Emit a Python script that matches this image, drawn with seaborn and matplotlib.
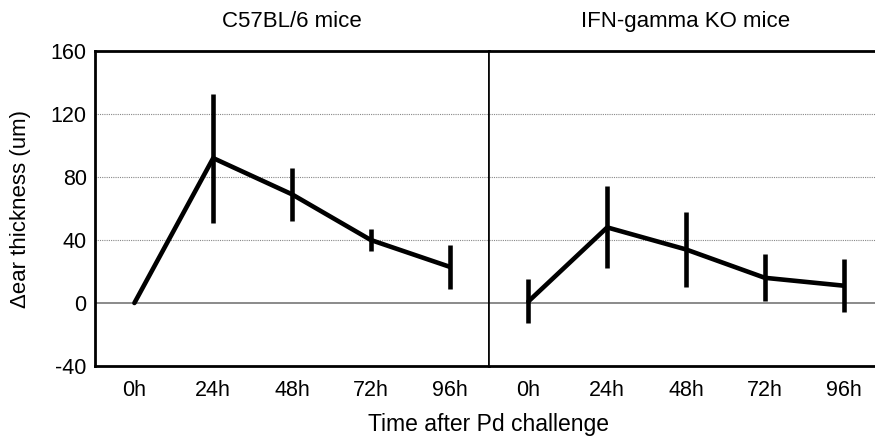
import numpy as np
import pandas as pd
import seaborn as sns
from matplotlib import pyplot as plt, ticker

times = ["0h", "24h", "48h", "72h", "96h"]

wt_mean = [0, 92, 69, 40, 23]
wt_sd = [0, 41, 17, 7, 14]

ko_mean = [1, 48, 34, 16, 11]
ko_sd = [14, 26, 24, 15, 17]

panels = [
    ("C57BL/6 mice", wt_mean, wt_sd),
    ("IFN-gamma KO mice", ko_mean, ko_sd),
]


def main():
    sns.set_style("white")
    plt.rcParams['font.family'] = ['Liberation Sans', 'DejaVu Sans']
    plt.rcParams['axes.unicode_minus'] = False
    plt.rcParams['text.color'] = 'black'
    plt.rcParams['axes.labelcolor'] = 'black'
    plt.rcParams['xtick.color'] = 'black'
    plt.rcParams['ytick.color'] = 'black'

    fig = plt.figure(figsize=(8.75, 4.36), dpi=100)
    ax1 = fig.add_axes([95 / 875, 70 / 436, 394 / 875, 315 / 436])
    ax2 = fig.add_axes([489 / 875, 70 / 436, 394 / 875, 315 / 436], sharey=ax1)

    for ax, (title, mean, sd) in zip([ax1, ax2], panels):
        df = pd.DataFrame({"time": times, "mean": mean, "sd": sd})
        sns.pointplot(ax=ax, data=df, x="time", y="mean", order=times,
                      errorbar=None, color="black", marker="", linewidth=3.3)
        ax.errorbar(np.arange(len(times)), df["mean"], yerr=df["sd"], fmt="none",
                    ecolor="black", elinewidth=3.3, capsize=0)

        ax.set_xlim(-0.5, len(times) - 0.5)
        ax.set_ylim(-40, 160)
        ax.yaxis.set_major_locator(ticker.MultipleLocator(40))
        ax.yaxis.set_minor_locator(ticker.MultipleLocator(20))
        ax.xaxis.set_minor_locator(ticker.FixedLocator(np.arange(0.5, len(times) - 1, 1)))

        for v in [40, 80, 120]:
            ax.axhline(v, color="#888888", lw=0.8, ls=(0, (1, 1)), zorder=0)
        ax.axhline(0, color="#777777", lw=1.2, zorder=0)

        ax.tick_params(axis="both", which="both", direction="in")
        ax.tick_params(axis="x", which="major", length=0, labelsize=15.5, pad=10)
        ax.tick_params(axis="x", which="minor", length=4, width=1)
        ax.tick_params(axis="y", which="major", length=4, width=1, labelsize=15.5, pad=6)
        ax.tick_params(axis="y", which="minor", length=3, width=1)

        ax.set_title(title, fontsize=16, pad=17)
        ax.set_xlabel("")
        ax.set_ylabel("")

        for side in ["top", "bottom", "left", "right"]:
            ax.spines[side].set_color("black")
            ax.spines[side].set_linewidth(2)

    ax1.spines["right"].set_linewidth(1.2)
    ax2.spines["left"].set_linewidth(1.2)
    ax2.tick_params(axis="y", which="both", labelleft=False)

    ax1.set_ylabel("\u0394ear thickness (um)", fontsize=16, labelpad=14)
    fig.text(489 / 875, 0.0, "Time after Pd challenge", ha="center", va="bottom", fontsize=16.5)

    fig.savefig("out.png", dpi=100)


if __name__ == '__main__':
    main()
